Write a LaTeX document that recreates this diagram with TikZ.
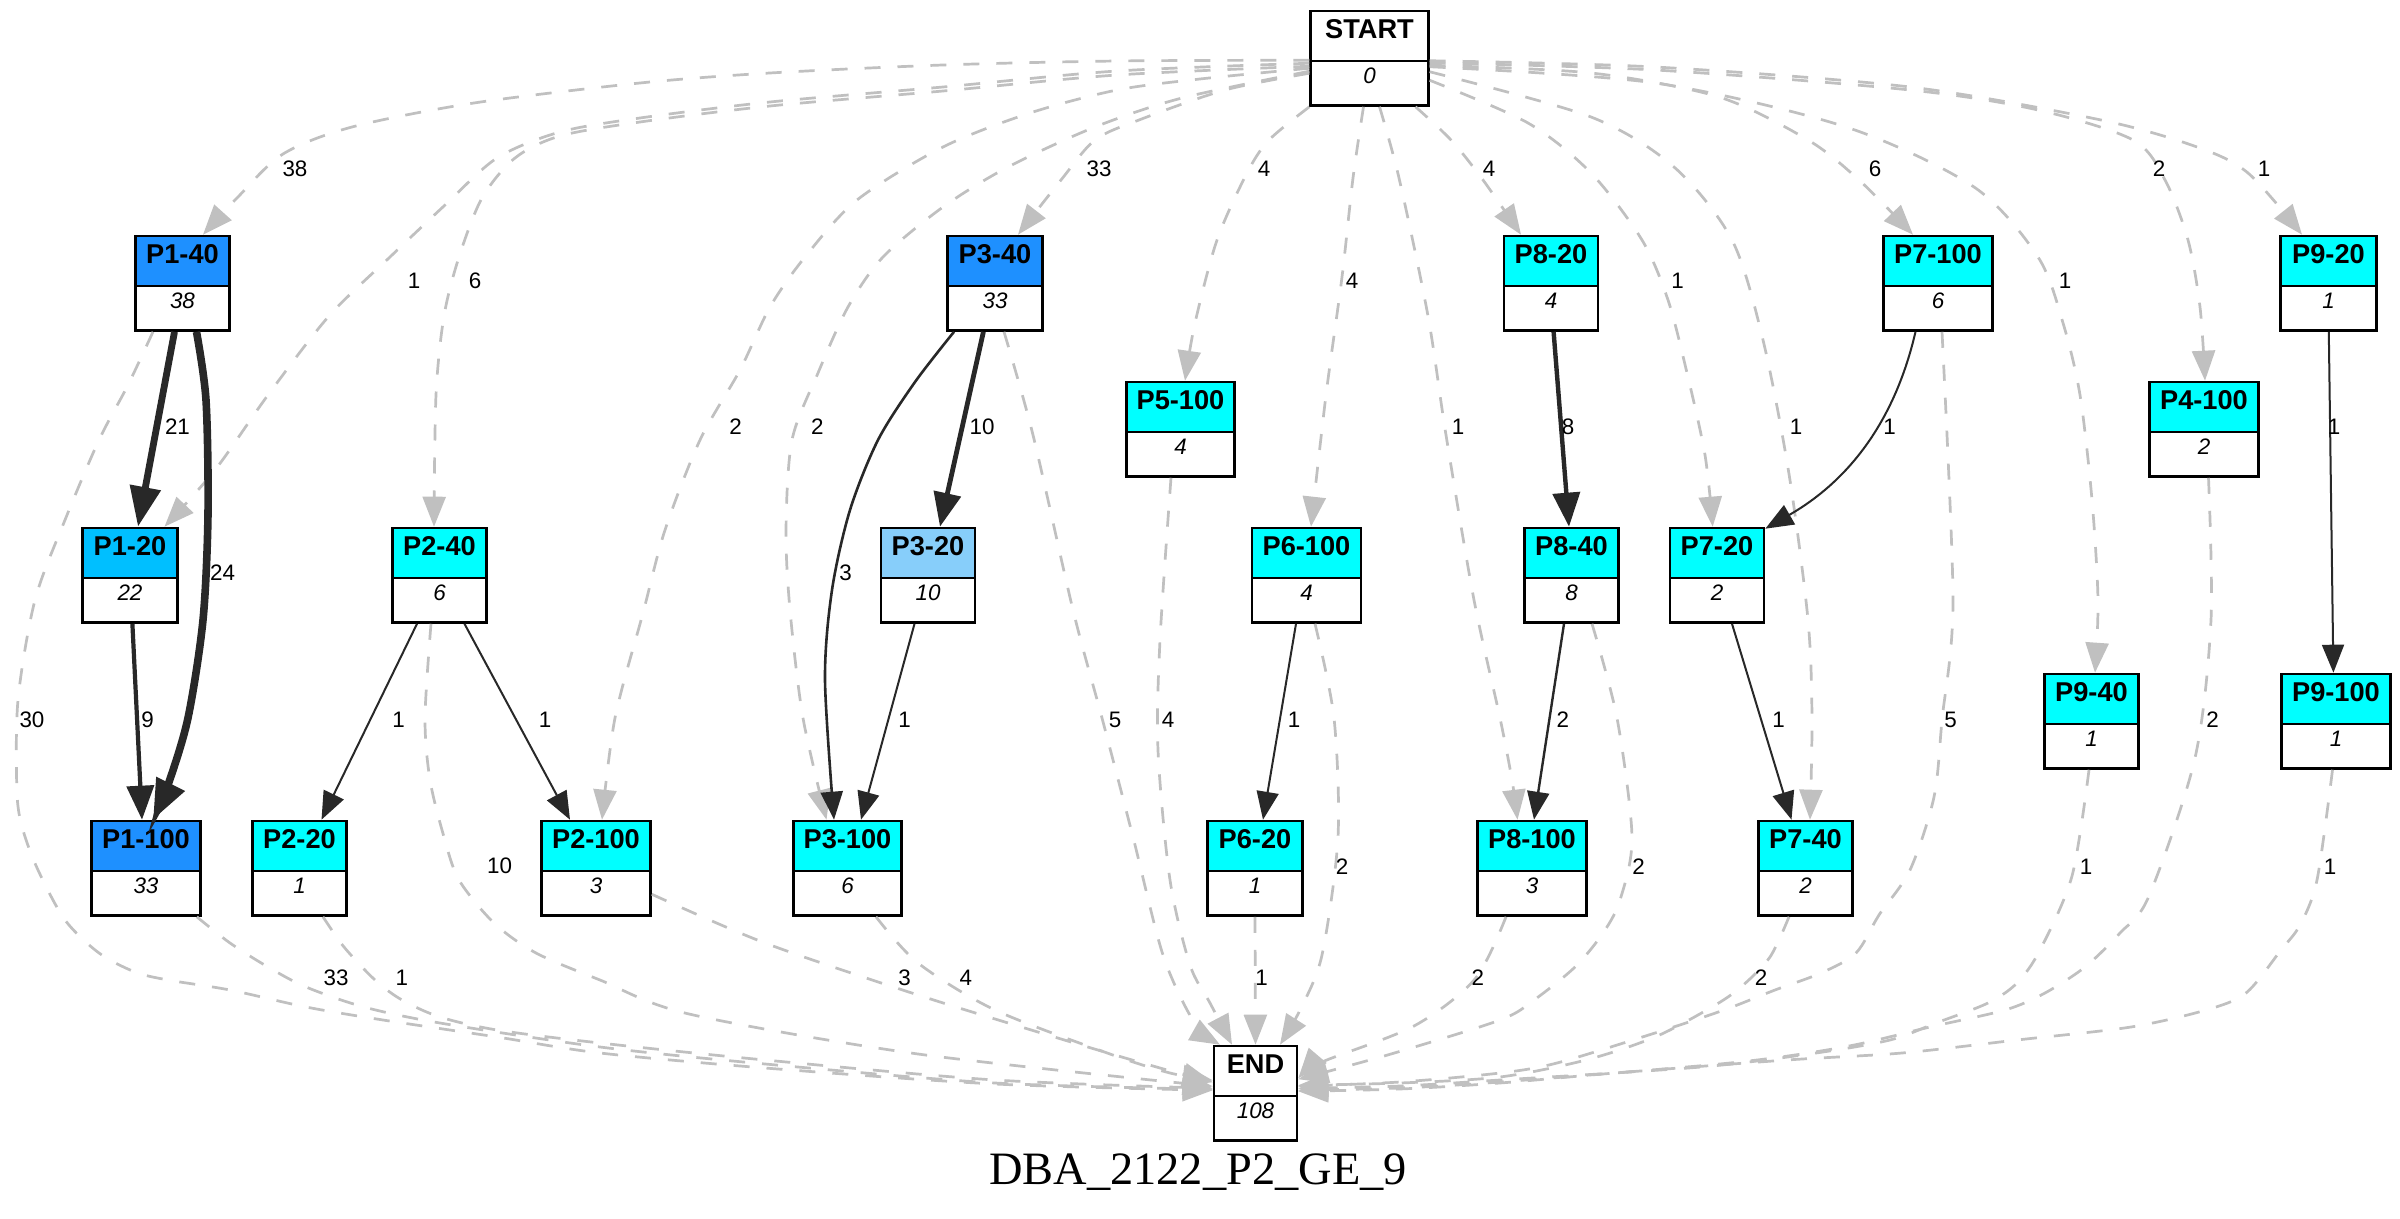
\documentclass[tikz,border=0pt]{standalone}
\usepackage{fontspec}
\setmainfont{Liberation Sans}
\newfontfamily\capfont{Liberation Serif}
\usetikzlibrary{arrows.meta}
\definecolor{dodger}{HTML}{1E90FF}
\definecolor{deepsky}{HTML}{00BFFF}
\definecolor{lightsky}{HTML}{87CEFA}
\definecolor{aqua}{HTML}{00FFFF}
\definecolor{edgegray}{HTML}{C0C0C0}
\definecolor{edgedark}{HTML}{282828}

\tikzset{
  statebox/.style={draw=black, line width=1.3pt, inner sep=0pt, minimum height=47.25pt, fill=white,
    path picture={
      \fill[#1] (path picture bounding box.north west) rectangle ([yshift=-25pt]path picture bounding box.north east);
      \draw[line width=1.3pt] ([yshift=-25pt]path picture bounding box.north west) -- ([yshift=-25pt]path picture bounding box.north east);
    }},
  hdr/.style={inner sep=0pt, font=\fontsize{13.6pt}{15pt}\selectfont\bfseries},
  val/.style={inner sep=0pt, font=\fontsize{11.2pt}{13pt}\selectfont\itshape},
  elab/.style={inner sep=0pt, font=\fontsize{11.2pt}{13pt}\selectfont},
  gline/.style={draw=edgegray, line width=1.35pt, dash pattern=on 8pt off 8.5pt, -{Triangle[length=15pt,width=11.5pt]}},
  kthin/.style={draw=edgedark, line width=1pt, -{Triangle[length=14pt,width=11pt]}},
  kmid/.style={draw=edgedark, -{Triangle[length=17pt,width=13.5pt]}},
  kthick/.style={draw=edgedark, -{Triangle[length=20pt,width=15pt]}},
}

% name, centre x, top y, width, header colour, title, count
\newcommand\statenode[7]{%
  \node[statebox=#5, minimum width=#4*0.5pt] (#1) at (#2,#3+47.25) {};
  \node[hdr] (#1-t) at ([yshift=-9.75pt]#1.north) {#6};
  \node[val] (#1-v) at ([yshift=-33pt]#1.north) {#7};
}

\begin{document}
\begin{tikzpicture}[x=0.5pt, y=-0.5pt]
\fill[white] (0,0) rectangle (2400,1219);
\useasboundingbox (0,0) rectangle (2400,1219);

% ---- states ----
\statenode{nstart}{1369.5}{11}{117.6}{white}{START}{0}
\statenode{p140}{182.5}{236}{94}{dodger}{P1-40}{38}
\statenode{p340}{995}{236}{95}{dodger}{P3-40}{33}
\statenode{p820}{1551}{236}{94}{aqua}{P8-20}{4}
\statenode{p7100}{1938}{236}{109}{aqua}{P7-100}{6}
\statenode{p920}{2328.5}{236}{96}{aqua}{P9-20}{1}
\statenode{p5100}{1180.5}{382}{108}{aqua}{P5-100}{4}
\statenode{p4100}{2204}{382}{109}{aqua}{P4-100}{2}
\statenode{p120}{130}{528}{95}{deepsky}{P1-20}{22}
\statenode{p240}{439.5}{528}{94}{aqua}{P2-40}{6}
\statenode{p320}{928}{528}{94}{lightsky}{P3-20}{10}
\statenode{p6100}{1306.5}{528}{109}{aqua}{P6-100}{4}
\statenode{p840}{1571.5}{528}{94}{aqua}{P8-40}{8}
\statenode{p720}{1717}{528}{94}{aqua}{P7-20}{2}
\statenode{p940}{2091.5}{674}{94}{aqua}{P9-40}{1}
\statenode{p9100}{2336}{674}{109}{aqua}{P9-100}{1}
\statenode{p1100}{146}{821}{109}{dodger}{P1-100}{33}
\statenode{p220}{299.5}{821}{94}{aqua}{P2-20}{1}
\statenode{p2100}{596}{821}{109}{aqua}{P2-100}{3}
\statenode{p3100}{847.5}{821}{108}{aqua}{P3-100}{6}
\statenode{p620}{1255}{821}{95}{aqua}{P6-20}{1}
\statenode{p8100}{1532}{821}{109}{aqua}{P8-100}{3}
\statenode{p740}{1805.5}{821}{94}{aqua}{P7-40}{2}
\statenode{nend}{1255.5}{1046}{83}{white}{END}{108}

% ---- transitions out of START ----
\draw[gline] plot[smooth] coordinates {([shift={(0,2)}]nstart.west) (1117,61) (943,65) (770,73) (640,83) (474,103) (352,127) (283,154) (237,198) ([shift={(20.5,0)}]p140.north)};
\draw[gline] plot[smooth] coordinates {([shift={(0,5)}]nstart.west) (1117,71) (943,87) (770,102) (640,118) (560,132) (497,158) (444,206) (390,257) (329,316) (268,395) (215,470) ([shift={(34.5,0)}]p120.north)};
\draw[gline] plot[smooth] coordinates {([shift={(0,8)}]nstart.west) (1117,75) (943,91) (770,106) (640,122) (560,136) (515,158) (482,198) (459,257) (444,316) (436,395) ([shift={(-5.5,0)}]p240.north)};
\draw[gline] plot[smooth] coordinates {([shift={(0,10)}]nstart.west) (1200,79) (1117,90) (1030,113) (943,147) (857,200) (805,257) (770,307) (740,370) (700,440) (665,530) (643,613) (615,718) ([shift={(6,0)}]p2100.north)};
\draw[gline] plot[smooth] coordinates {([shift={(0,13)}]nstart.west) (1182,98) (1095,127) (1008,167) (943,207) (883,257) (848,307) (818,373) (792,440) (786,530) (790,610) (803,718) ([shift={(-21,0)}]p3100.north)};
\draw[gline] plot[smooth] coordinates {([shift={(0,15)}]nstart.west) (1225,90) (1139,120) (1095,140) (1061,180) ([shift={(23,0)}]p340.north)};
\draw[gline] plot[smooth] coordinates {(nstart.south west) (1269,140) (1247,173) (1217,240) (1195,323) ([shift={(4.5,0)}]p5100.north)};
\draw[gline] plot[smooth] coordinates {([shift={(-6,0)}]nstart.south) (1353,178) (1342,277) (1326,395) ([shift={(4.5,0)}]p6100.north)};
\draw[gline] plot[smooth] coordinates {([shift={(10,0)}]nstart.south) (1399,178) (1428,316) (1446,435) (1474,600) (1500,718) (1512,780) ([shift={(-14.5,0)}]p8100.north)};
\draw[gline] plot[smooth] coordinates {([shift={(46,0)}]nstart.south) (1451,140) (1483,180) ([shift={(-30,0)}]p820.north)};
\draw[gline] plot[smooth] coordinates {([shift={(0,22)}]nstart.east) (1528,123) (1591,173) (1642,240) (1668,300) (1687,373) (1705,455) ([shift={(-4.3,0)}]p720.north)};
\draw[gline] plot[smooth] coordinates {([shift={(0,13.5)}]nstart.east) (1591,117) (1674,167) (1732,240) (1763,340) (1789,474) (1808,620) (1812,718) ([shift={(4.5,0)}]p740.north)};
\draw[gline] plot[smooth] coordinates {([shift={(0,7)}]nstart.east) (1591,73) (1719,97) (1808,140) (1859,180) ([shift={(-25,0)}]p7100.north)};
\draw[gline] plot[smooth] coordinates {([shift={(0,8.5)}]nstart.east) (1655,83) (1846,127) (1974,187) (2038,257) (2063,323) (2080,395) (2092,500) (2098,600) ([shift={(3.5,0)}]p940.north)};
\draw[gline] plot[smooth] coordinates {([shift={(0,4.5)}]nstart.east) (1655,70) (1910,90) (2038,110) (2133,140) (2165,180) (2188,240) (2200,307) ([shift={(1,0)}]p4100.north)};
\draw[gline] plot[smooth] coordinates {([shift={(0,2.5)}]nstart.east) (1655,67) (1910,87) (2101,120) (2197,147) (2248,173) ([shift={(-26.5,0)}]p920.north)};

% ---- transitions into END ----
\draw[gline] plot[smooth] coordinates {([shift={(-29.5,0)}]p140.south) (128,385) (99,440) (65,520) (35,600) (18,700) (17,793) (23,830) (38,870) (65,920) (99,953) (135,972) (168,980) (230,990) (306,1007) (383,1020) (497,1037) (600,1053) (765,1068) (995,1084) ([shift={(0,-3)}]nend.west)};
\draw[gline] plot[smooth] coordinates {([shift={(-5,0)}]p1100.south east) (230,943) (268,967) (306,987) (364,1007) (440,1023) (600,1047) (765,1064) (995,1083) ([shift={(0,-4)}]nend.west)};
\draw[gline] plot[smooth] coordinates {([shift={(23.5,0)}]p220.south) (344,947) (375,980) (402,1000) (440,1017) (497,1030) (600,1043) (765,1060) (995,1080) ([shift={(0,-5)}]nend.west)};
\draw[gline] plot[smooth] coordinates {([shift={(-8.5,0)}]p240.south) (425,718) (430,780) (444,837) (459,880) (494,923) (536,953) (600,980) (689,1014) (918,1054) ([shift={(0,-7)}]nend.west)};
\draw[gline] plot[smooth] coordinates {([shift={(0,26)}]p2100.east) (765,943) (918,995) (1071,1042) (1160,1068) ([shift={(0,-11)}]nend.west)};
\draw[gline] plot[smooth] coordinates {([shift={(28.5,0)}]p3100.south) (918,963) (995,1010) (1110,1054) (1170,1073) ([shift={(0,-13)}]nend.west)};
\draw[gline] plot[smooth] coordinates {([shift={(9,0)}]p340.south) (1033,435) (1073,610) (1102,718) (1133,837) (1163,955) (1194,1022) ([shift={(-35.5,0)}]nend.north)};
\draw[gline] plot[smooth] coordinates {([shift={(-9.5,0)}]p5100.south) (1160,640) (1158,750) (1170,880) (1190,965) (1210,1003) ([shift={(-23.5,0)}]nend.north)};
\draw[gline] plot[smooth] coordinates {([shift={(8.5,0)}]p6100.south) (1334,718) (1338,837) (1322,955) (1300,1010) ([shift={(24.5,0)}]nend.north)};
\draw[gline] (p620.south) -- (nend.north);
\draw[gline] plot[smooth] coordinates {([shift={(-26,0)}]p8100.south) (1475,979) (1414,1026) (1322,1062) ([shift={(0,-15)}]nend.east)};
\draw[gline] plot[smooth] coordinates {([shift={(20.5,0)}]p840.south) (1617,718) (1632,837) (1620,900) (1603,933) (1575,967) (1534,1000) (1500,1020) (1391,1054) ([shift={(0,-14)}]nend.east)};
\draw[gline] plot[smooth] coordinates {([shift={(-16.5,0)}]p740.south) (1770,957) (1741,987) (1712,1007) (1655,1037) (1586,1060) (1500,1077) (1400,1083) ([shift={(0,-8)}]nend.east)};
\draw[gline] plot[smooth] coordinates {([shift={(4,0)}]p7100.south) (1953,600) (1942,720) (1934,797) (1910,870) (1879,915) (1856,953) (1821,973) (1775,990) (1724,1010) (1655,1033) (1557,1063) (1500,1073) (1400,1082) ([shift={(0,-7)}]nend.east)};
\draw[gline] plot[smooth] coordinates {([shift={(-2.5,0)}]p940.south) (2072,876) (2040,950) (2017,983) (1988,1003) (1936,1023) (1890,1040) (1816,1053) (1701,1067) (1500,1080) (1400,1086) ([shift={(0,-5)}]nend.east)};
\draw[gline] plot[smooth] coordinates {([shift={(4.5,0)}]p4100.south) (2211,620) (2195,758) (2149,896) (2120,933) (2085,967) (2045,993) (2005,1010) (1930,1027) (1844,1047) (1730,1063) (1500,1082) (1400,1088) ([shift={(0,-3)}]nend.east)};
\draw[gline] plot[smooth] coordinates {([shift={(-3.5,0)}]p9100.south) (2317,880) (2300,925) (2281,950) (2246,993) (2206,1010) (2131,1027) (2017,1040) (1902,1053) (1787,1060) (1615,1073) (1500,1083) (1400,1089) ([shift={(0,-2)}]nend.east)};

% ---- solid transitions between states ----
\draw[kthick, line width=3.4pt] ([shift={(-8,0)}]p140.south) -- ([shift={(8,0)}]p120.north);
\draw[kthick, line width=3.8pt] plot[smooth] coordinates {([shift={(14,0)}]p140.south) (206,400) (208,514) (203,620) (188,718) (168,785) ([shift={(7,0)}]p1100.north)};
\draw[kmid, line width=2.1pt] ([shift={(2.4,0)}]p120.south) -- ([shift={(-4,0)}]p1100.north);
\draw[kthin] ([shift={(-22.5,0)}]p240.south) -- ([shift={(22,0)}]p220.north);
\draw[kthin] ([shift={(25,0)}]p240.south) -- ([shift={(-26,0)}]p2100.north);
\draw[kmid, line width=2.4pt] ([shift={(-11.6,0)}]p340.south) -- ([shift={(12,0)}]p320.north);
\draw[kthin, line width=1.3pt] plot[smooth] coordinates {([shift={(-41,0)}]p340.south) (915,382) (878,440) (850,510) (832,590) (825,680) ([shift={(-13.5,0)}]p3100.north)};
\draw[kthin] ([shift={(-13.5,0)}]p320.south) -- ([shift={(13.5,0)}]p3100.north);
\draw[kmid, line width=2.2pt] ([shift={(2.6,0)}]p820.south) -- ([shift={(-2.5,0)}]p840.north);
\draw[kthin, line width=1.2pt] ([shift={(-7.5,0)}]p840.south) -- ([shift={(2,0)}]p8100.north);
\draw[kthin] ([shift={(-22.5,0)}]p7100.south) .. controls (1895,420) and (1850,480) .. ([shift={(0,2)}]p720.north east);
\draw[kthin] ([shift={(15,0)}]p720.south) -- ([shift={(-14,0)}]p740.north);
\draw[kthin] ([shift={(-10.5,0)}]p6100.south) -- ([shift={(8,0)}]p620.north);
\draw[kthin] ([shift={(0.3,0)}]p920.south) -- ([shift={(-2.6,0)}]p9100.north);

% ---- edge counts ----
\node[elab] (l01) at (295,169) {38};
\node[elab] (l02) at (414,281) {1};
\node[elab] (l03) at (475,281) {6};
\node[elab] (l04) at (735.5,427) {2};
\node[elab] (l05) at (817.3,427) {2};
\node[elab] (l06) at (1099,169) {33};
\node[elab] (l07) at (1264,169) {4};
\node[elab] (l08) at (1352,281) {4};
\node[elab] (l09) at (1458,427) {1};
\node[elab] (l10) at (1489,169) {4};
\node[elab] (l11) at (1677.5,281) {1};
\node[elab] (l12) at (1796,427) {1};
\node[elab] (l13) at (1875,169) {6};
\node[elab] (l14) at (2065,281) {1};
\node[elab] (l15) at (2159,169) {2};
\node[elab] (l16) at (2264,169) {1};
\node[elab] (l17) at (177.5,427) {21};
\node[elab] (l18) at (222.7,573) {24};
\node[elab] (l19) at (147.7,720) {9};
\node[elab] (l20) at (982,427) {10};
\node[elab] (l21) at (845.7,573) {3};
\node[elab] (l22) at (904.6,720) {1};
\node[elab] (l23) at (398.7,720) {1};
\node[elab] (l24) at (545,720) {1};
\node[elab] (l25) at (1568,427) {8};
\node[elab] (l26) at (1562.8,720) {2};
\node[elab] (l27) at (1889.5,427) {1};
\node[elab] (l28) at (1778.6,720) {1};
\node[elab] (l29) at (1294,720) {1};
\node[elab] (l30) at (2334,427) {1};
\node[elab] (l31) at (32,720) {30};
\node[elab] (l32) at (336,978) {33};
\node[elab] (l33) at (401.8,978) {1};
\node[elab] (l34) at (499.5,866) {10};
\node[elab] (l35) at (904.6,978) {3};
\node[elab] (l36) at (965.8,978) {4};
\node[elab] (l37) at (1115,720) {5};
\node[elab] (l38) at (1168,720) {4};
\node[elab] (l39) at (1342,866.5) {2};
\node[elab] (l40) at (1261.7,978) {1};
\node[elab] (l41) at (1477.8,978) {2};
\node[elab] (l42) at (1638.5,866.5) {2};
\node[elab] (l43) at (1761,978) {2};
\node[elab] (l44) at (1950.7,720) {5};
\node[elab] (l45) at (2086,866.5) {1};
\node[elab] (l46) at (2212.5,720) {2};
\node[elab] (l47) at (2330,866.5) {1};

% ---- caption ----
\node[font=\capfont\fontsize{23.2pt}{26pt}\selectfont, anchor=base, inner sep=0pt] (caption) at (1198,1184) {DBA\_2122\_P2\_GE\_9};
\end{tikzpicture}
\end{document}
